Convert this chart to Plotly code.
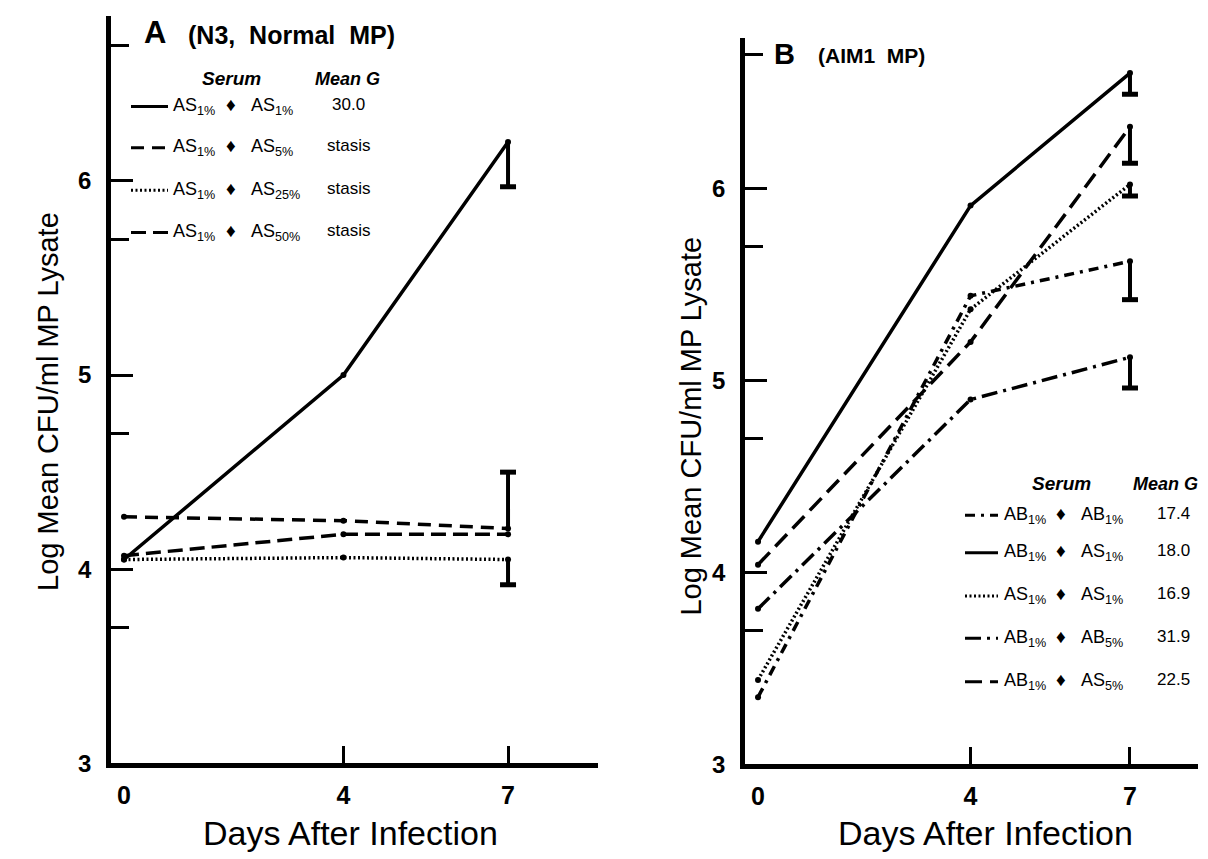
import plotly.graph_objects as go

W, H = 1208, 859

DAYS = [0, 4, 7]

# Panel A (N3, normal MP) - log mean CFU/ml
A_AS1_AS1 = [4.05, 5.0, 6.2]
A_AS1_AS5 = [4.27, 4.25, 4.21]
A_AS1_AS25 = [4.05, 4.06, 4.05]
A_AS1_AS50 = [4.07, 4.18, 4.18]
A_ERR_END = [5.97, 4.5, 3.92, None]          # end of the day-7 bar
A_MEAN_G = ["30.0", "stasis", "stasis", "stasis"]
A_SERUM = [("AS", "1%", "AS", "1%"), ("AS", "1%", "AS", "5%"),
           ("AS", "1%", "AS", "25%"), ("AS", "1%", "AS", "50%")]

# Panel B (AIM1 MP)
B_AB1_AB1 = [3.35, 5.44, 5.62]
B_AB1_AS1 = [4.16, 5.91, 6.6]
B_AS1_AS1 = [3.44, 5.37, 6.02]
B_AB1_AB5 = [3.81, 4.9, 5.12]
B_AB1_AS5 = [4.04, 5.2, 6.32]
B_ERR_END = [5.42, 6.49, 5.96, 4.96, 6.13]
B_MEAN_G = ["17.4", "18.0", "16.9", "31.9", "22.5"]
B_SERUM = [("AB", "1%", "AB", "1%"), ("AB", "1%", "AS", "1%"),
           ("AS", "1%", "AS", "1%"), ("AB", "1%", "AB", "5%"),
           ("AB", "1%", "AS", "5%")]

Y_TICKS = [3, 4, 5, 6]
Y_MINOR = [3.699, 4.699, 5.699, 6.699]

# line styles
SOLID = "solid"
DASH = "13px,8px"
DOT = "2px,2.5px"
DASHDOT = "10px,6px,3px,6px"
LONGDASH = "17px,8px"
LONGDASHDOT = "16px,6px,3px,6px"

A_STYLES = [SOLID, DASH, DOT, "15px,7px"]
B_STYLES = [DASHDOT, SOLID, DOT, LONGDASHDOT, LONGDASH]

FONT = "Liberation Sans, Arial, Helvetica, sans-serif"


def px(x):
    return x / W


def py(y):
    return 1 - y / H


fig = go.Figure()
shapes = []


def add_panel(series, styles, err_end, xa, ya):
    for vals, dash, e in zip(series, styles, err_end):
        fig.add_trace(go.Scatter(
            x=DAYS, y=vals, mode="lines+markers",
            line=dict(color="black", width=3.5, dash=dash),
            marker=dict(color="black", size=6),
            xaxis=xa, yaxis=ya, showlegend=False, hoverinfo="x+y"))
        if e is None:
            continue
        # one-sided error bar at day 7
        fig.add_trace(go.Scatter(
            x=[DAYS[-1], DAYS[-1]], y=[vals[-1], e], mode="lines",
            line=dict(color="black", width=4),
            xaxis=xa, yaxis=ya, showlegend=False, hoverinfo="skip"))
        # cap only at the far end of the bar
        shapes.append(dict(type="line", xref=xa, yref=ya, xsizemode="pixel",
                           xanchor=DAYS[-1], x0=-8, x1=8, y0=e, y1=e,
                           line=dict(color="black", width=5)))


add_panel([A_AS1_AS1, A_AS1_AS5, A_AS1_AS25, A_AS1_AS50], A_STYLES, A_ERR_END, "x", "y")
add_panel([B_AB1_AB1, B_AB1_AS1, B_AS1_AS1, B_AB1_AB5, B_AB1_AS5], B_STYLES, B_ERR_END, "x2", "y2")

xaxis_common = dict(
    showline=True, linewidth=4.5, linecolor="black", mirror=False,
    showgrid=False, zeroline=False,
    tickvals=DAYS, ticktext=[str(d) for d in DAYS], ticks="",
    tickfont=dict(family=FONT, size=25, color="black", weight="bold"),
    ticklabelstandoff=6,
    minor=dict(tickvals=DAYS[1:], ticks="inside", ticklen=18, tickwidth=2.5,
               tickcolor="black", showgrid=False),
    fixedrange=True,
)
yaxis_common = dict(
    showline=True, linewidth=4.5, linecolor="black",
    showgrid=False, zeroline=False,
    tickvals=Y_TICKS, ticktext=[str(t) for t in Y_TICKS],
    ticks="inside", ticklen=22, tickwidth=2.5, tickcolor="black",
    tickfont=dict(family=FONT, size=24, color="black", weight="bold"),
    ticklabelstandoff=10,
    minor=dict(tickvals=Y_MINOR, ticks="inside", ticklen=18, tickwidth=2.5,
               tickcolor="black", showgrid=False),
    fixedrange=True,
)

fig.update_layout(
    width=W, height=H,
    margin=dict(l=0, r=0, t=0, b=0),
    paper_bgcolor="white", plot_bgcolor="white",
    showlegend=False,
    xaxis=dict(xaxis_common, domain=[px(103), px(590)], range=[-0.237, 8.64], anchor="y"),
    yaxis=dict(yaxis_common, domain=[py(767), py(8)], range=[3, 6.85], anchor="x"),
    xaxis2=dict(xaxis_common, domain=[px(737), px(1190)], range=[-0.245, 8.28], anchor="y2"),
    yaxis2=dict(yaxis_common, domain=[py(768), py(30)], range=[3, 6.785], anchor="x2"),
)

ann = []


def text(x, y, s, size, xanchor="center", weight="normal", style="normal"):
    ann.append(dict(x=px(x), y=py(y), xref="paper", yref="paper", text=s,
                    showarrow=False, xanchor=xanchor, yanchor="middle",
                    font=dict(family=FONT, size=size, color="black",
                              weight=weight, style=style)))


# panel titles
text(134, 25, "A", 31, "left", "bold")
text(178, 27, "(N3,  Normal  MP)", 25, "left", "bold")
text(764, 47, "B", 29, "left", "bold")
text(808, 48, "(AIM1  MP)", 21, "left", "bold")

# axis titles
text(342, 838, "Days After Infection", 34)
text(977, 838, "Days After Infection", 34)
for x_title, y_title in [(40, 400), (683, 425)]:
    ann.append(dict(x=px(x_title), y=py(y_title), xref="paper", yref="paper",
                    text="Log Mean CFU/ml MP Lysate", textangle=-90,
                    showarrow=False, xanchor="center", yanchor="middle",
                    font=dict(family=FONT, size=29, color="black")))


def legend_block(rows_y, styles, serum, meang, x0, x1, x_txt, x_arrow, x_txt2, x_val,
                 head_y, x_head):
    text(x_arrow, head_y, "Serum", 19, "center", "bold", "italic")
    text(x_head, head_y, "Mean G", 18, "center", "bold", "italic")
    for y, dash, (a, sa, b, sb), g in zip(rows_y, styles, serum, meang):
        shapes.append(dict(type="line", xref="paper", yref="paper",
                           x0=px(x0), x1=px(x1), y0=py(y), y1=py(y),
                           line=dict(color="black", width=3, dash=dash)))
        text(x_txt, y, f"{a}<sub>{sa}</sub>", 18, "left")
        text(x_arrow, y - 2, "\u2666", 19, "center")
        text(x_txt2, y, f"{b}<sub>{sb}</sub>", 18, "left")
        text(x_val, y - 2, g, 17, "center")


legend_block([100, 142, 185, 228], A_STYLES, A_SERUM, A_MEAN_G,
             123, 160, 163, 223, 241, 340, 72, 339)
legend_block([515, 553, 597, 640, 684], B_STYLES, B_SERUM, B_MEAN_G,
             957, 990, 994, 1053, 1071, 1165, 483, 1157)

fig.update_layout(annotations=ann, shapes=shapes)

fig.write_html("out.html")
